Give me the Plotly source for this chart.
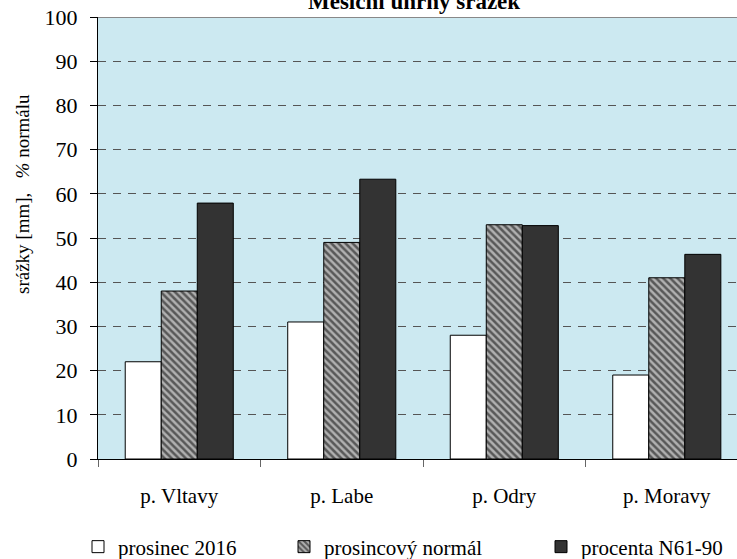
import plotly.graph_objects as go

categories = ["p. Vltavy", "p. Labe", "p. Odry", "p. Moravy"]
prosinec_2016 = [22, 31, 28, 19]
prosincovy_normal = [38, 49, 53, 41]
procenta_n61_90 = [57.9, 63.3, 52.8, 46.3]
series_names = ["prosinec 2016", "prosincový normál", "procenta N61-90"]
y_ticks = list(range(0, 101, 10))

FONT = "Liberation Serif, Times New Roman, serif"

W, H = 737, 559
PL, PT, PB = 98, 17, 459  # plot left/top/bottom in page pixels
L, T, B = PL, PT, H - PB
plot_w = W - L
plot_h = H - T - B


def px_x(p):
    return (p - L) / plot_w


def px_y(p):
    return (PB - p) / plot_h


fig = go.Figure()
fig.add_trace(go.Bar(
    x=categories, y=prosinec_2016, name=series_names[0], legend="legend",
    marker=dict(color="white", line=dict(color="black", width=1)),
))
fig.add_trace(go.Bar(
    x=categories, y=prosincovy_normal, name=series_names[1], legend="legend2",
    marker=dict(color="#b0b0b0", line=dict(color="black", width=1),
                pattern=dict(shape="\\", fgcolor="black", bgcolor="#b0b0b0",
                             size=5, solidity=0.5, fillmode="overlay")),
))
fig.add_trace(go.Bar(
    x=categories, y=procenta_n61_90, name=series_names[2], legend="legend3",
    marker=dict(color="#333333", line=dict(color="black", width=1)),
))

leg_font = dict(family=FONT, size=21, color="black")
leg_y = px_y(547)


def leg(left_px):
    return dict(orientation="h", x=px_x(left_px), xanchor="left", y=leg_y,
                yanchor="middle", font=leg_font, bgcolor="rgba(0,0,0,0)",
                itemwidth=30)


fig.update_layout(
    width=W, height=H,
    margin=dict(l=L, r=0, t=T, b=B, pad=0, autoexpand=False),
    paper_bgcolor="white",
    plot_bgcolor="#cce9f1",
    barmode="group", bargap=0.335, bargroupgap=0,
    font=dict(family=FONT, size=21, color="black"),
    showlegend=True,
    legend=leg(78),
    legend2=leg(284),
    legend3=leg(541),
    xaxis=dict(
        type="category", range=[-0.5, 3.432],
        showline=True, linecolor="black", linewidth=1,
        ticks="outside", tickson="boundaries", ticklen=7, tickcolor="#666",
        showgrid=False, ticklabelstandoff=18, automargin=False,
        tickfont=dict(family=FONT, size=21, color="black"),
        fixedrange=True,
    ),
    yaxis=dict(
        range=[0, 100], tickvals=y_ticks,
        showline=True, linecolor="black", linewidth=1,
        ticks="outside", ticklen=7, tickcolor="black",
        showgrid=True, gridcolor="#555555", griddash="8px,7px", gridwidth=1,
        zeroline=False, automargin=False, ticklabelstandoff=8,
        tickfont=dict(family=FONT, size=22, color="black"),
        fixedrange=True,
    ),
    shapes=[dict(type="line", xref="paper", yref="y", x0=0, x1=1, y0=100, y1=100,
                 line=dict(color="#888888", width=2))],
    annotations=[
        dict(text="<b>Měsíční úhrny srážek</b>", xref="paper", yref="paper",
             x=px_x(414), y=px_y(2), xanchor="center", yanchor="middle",
             showarrow=False, font=dict(family=FONT, size=23, color="black")),
        dict(text="srážky [mm],   <i>%</i> normálu", xref="paper", yref="paper",
             x=px_x(22), y=px_y(194), xanchor="center", yanchor="middle",
             textangle=-90, showarrow=False,
             font=dict(family=FONT, size=19, color="black")),
    ],
)

# remove the browser's default 8px body margin so the figure starts at the page corner
fig.write_html("out.html", config={"displayModeBar": False},
               post_script="document.body.style.margin='0';")
